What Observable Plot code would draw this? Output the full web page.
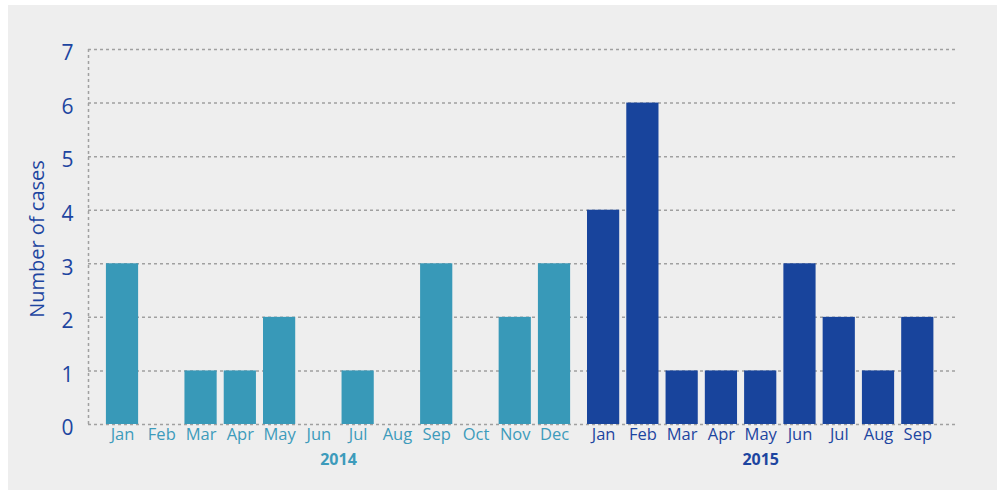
<!DOCTYPE html>
<html><head><meta charset="utf-8">
<script src="https://cdn.jsdelivr.net/npm/d3@7"></script>
<script src="https://cdn.jsdelivr.net/npm/@observablehq/plot@0.6"></script>
<style>
html,body{margin:0;padding:0;background:#fff;}
#panel{position:absolute;left:8px;top:5px;width:989px;height:485px;background:#eeeeee;}
#chart{position:absolute;left:0;top:0;}
svg{background:transparent!important;font-family:"Open Sans",Lato,sans-serif;}
</style></head>
<body>
<div id="panel"></div>
<div id="chart"></div>
<script>
const months2014 = ["Jan","Feb","Mar","Apr","May","Jun","Jul","Aug","Sep","Oct","Nov","Dec"];
const cases2014 = [3,0,1,1,2,0,1,0,3,0,2,3];
const months2015 = ["Jan","Feb","Mar","Apr","May","Jun","Jul","Aug","Sep"];
const cases2015 = [4,6,1,1,1,3,2,1,2];
const years = ["2014","2015"];
const yTicks = [0,1,2,3,4,5,6,7];

const colors = {"2014":"#3899b8","2015":"#18449c"};
const labelColors = {"2014":"#3d9bbb","2015":"#1d45a0"};
const yearGap = 0.25;

const data = [];
months2014.forEach((m,i)=>data.push({year:"2014",month:m,cases:cases2014[i],pos:i}));
months2015.forEach((m,i)=>data.push({year:"2015",month:m,cases:cases2015[i],pos:12+i+yearGap}));

const half = 0.41;
const yearLabels = years.map(y=>{
  const ps = data.filter(d=>d.year===y).map(d=>d.pos);
  return {year:y, pos:(d3.min(ps)+d3.max(ps))/2};
});

const chart = Plot.plot({
  width:997, height:490,
  marginLeft:88, marginRight:42, marginTop:49, marginBottom:66,
  style:{background:"transparent"},
  x:{domain:[-0.866,21.21], axis:null},
  y:{domain:[0,7], axis:null},
  marks:[
    Plot.ruleY(yTicks,{stroke:"#a0a0a0",strokeWidth:1.5,strokeDasharray:"3,3"}),
    Plot.ruleX([-0.866],{y1:0,y2:7,stroke:"#a0a0a0",strokeWidth:1.5,strokeDasharray:"3,3"}),
    Plot.rectY(data,{x1:d=>d.pos-half,x2:d=>d.pos+half,y1:0,y2:"cases",fill:d=>colors[d.year]}),
    Plot.text(yTicks,{x:-0.866,y:d=>d,text:d=>String(d),textAnchor:"end",dx:-15,dy:4,fontSize:21,fill:"#1d45a0"}),
    Plot.text(data,{x:"pos",y:0,text:"month",dy:4,fontSize:16.5,fill:d=>labelColors[d.year],lineAnchor:"top"}),
    Plot.text(yearLabels,{x:"pos",y:0,text:"year",dy:29,fontSize:16,fontWeight:"bold",fill:d=>labelColors[d.year],lineAnchor:"top"}),
    Plot.text(["Number of cases"],{frameAnchor:"left",textAnchor:"middle",dx:-51,dy:2,rotate:-90,fontSize:20,fill:"#1d45a0"})
  ]
});
document.getElementById("chart").appendChild(chart);
</script>
</body></html>
